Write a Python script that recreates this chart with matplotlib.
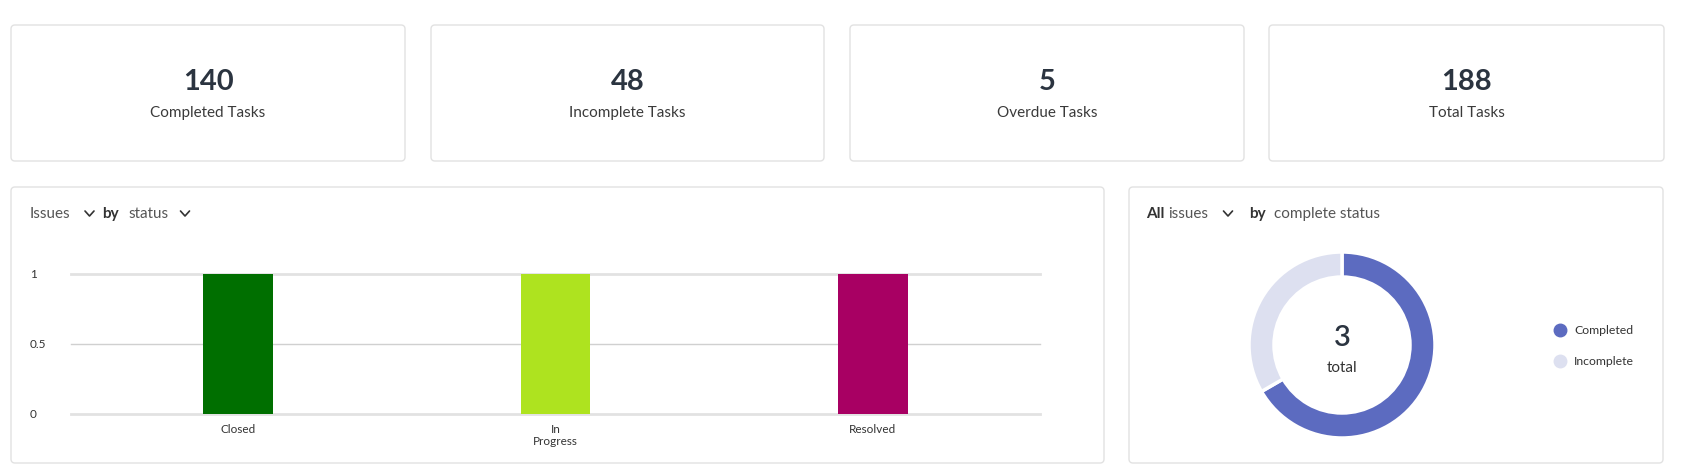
import matplotlib
matplotlib.use("Agg")
import matplotlib.pyplot as plt
from matplotlib.patches import FancyBboxPatch
from matplotlib.lines import Line2D

plt.rcParams['font.family'] = ['Lato', 'DejaVu Sans']

# ---- data ----
kpi_values = [140, 48, 5, 188]
kpi_labels = ["Completed Tasks", "Incomplete Tasks", "Overdue Tasks", "Total Tasks"]

status_categories = ["Closed", "In\nProgress", "Resolved"]
status_counts = [1, 1, 1]
status_colors = ["#006f00", "#aee31f", "#a80063"]
y_ticks = [0, 0.5, 1]
y_tick_labels = ["0", "0.5", "1"]

donut_labels = ["Completed", "Incomplete"]
donut_values = [2, 1]
donut_colors = ["#5c6bc0", "#dde0f0"]

W, H = 1684, 476
fig = plt.figure(figsize=(W / 100, H / 100), dpi=100)
fig.patch.set_facecolor("white")


def fr(x0, y0, x1, y1):
    return [x0 / W, 1 - y1 / H, (x1 - x0) / W, (y1 - y0) / H]


# background axes in pixel coordinates
bg = fig.add_axes([0, 0, 1, 1], zorder=0)
bg.set_xlim(0, W)
bg.set_ylim(H, 0)
bg.axis("off")

border = "#e2e2e2"


def panel(x0, y0, x1, y1):
    bg.add_patch(FancyBboxPatch((x0, y0), x1 - x0, y1 - y0,
                                boxstyle="round,pad=0,rounding_size=4",
                                fc="white", ec=border, lw=1.0))


def chevron(cx, cy, color="#333333"):
    bg.plot([cx - 4.5, cx, cx + 4.5], [cy - 2.5, cy + 2.5, cy - 2.5],
            color=color, lw=1.2, solid_capstyle="round", solid_joinstyle="round")


# KPI cards
card_x = [(11, 405), (431, 824), (850, 1244), (1269, 1664)]
for (x0, x1), v, lab in zip(card_x, kpi_values, kpi_labels):
    panel(x0, 25, x1, 161)
    cx = (x0 + x1) / 2
    bg.text(cx, 82, str(v), ha="center", va="center", fontsize=21,
            fontweight="bold", color="#2b3440")
    bg.text(cx, 113, lab, ha="center", va="center", fontsize=11, color="#3a3a3a")

# bottom panels
panel(11, 187, 1104, 463)
panel(1129, 187, 1663, 463)

# bar panel title
bg.text(30, 214, "Issues", ha="left", va="center", fontsize=11, color="#555555")
chevron(89.5, 213.5)
bg.text(102, 214, "by", ha="left", va="center", fontsize=11, color="#333333",
        fontweight="bold")
bg.text(128, 214, "status", ha="left", va="center", fontsize=11, color="#555555")
chevron(185, 213.5)

# donut panel title
bg.text(1146, 214, "All", ha="left", va="center", fontsize=11, color="#333333",
        fontweight="bold")
bg.text(1168, 214, "issues", ha="left", va="center", fontsize=11, color="#555555")
chevron(1228, 213.5)
bg.text(1249, 214, "by", ha="left", va="center", fontsize=11, color="#333333",
        fontweight="bold")
bg.text(1274, 214, "complete status", ha="left", va="center", fontsize=11,
        color="#555555")

# ---- bar chart ----
ax = fig.add_axes(fr(71, 274, 1040, 414), zorder=2)
ax.patch.set_alpha(0)
x = list(range(len(status_categories)))
ax.bar(x, status_counts, width=0.22, color=status_colors, zorder=3)
ax.set_xlim(-0.526, len(status_categories) - 1 + 0.526)
ax.set_ylim(0, 1)
for t in y_ticks:
    lw = 2.0 if t in (0, 1) else 1.0
    col = "#e2e2e2" if t in (0, 1) else "#d0d0d0"
    ax.axhline(t, color=col, lw=lw, clip_on=False, zorder=1)
for s in ax.spines.values():
    s.set_visible(False)
ax.set_yticks(y_ticks)
ax.set_yticklabels(y_tick_labels)
ax.set_xticks(x)
ax.set_xticklabels(status_categories, linespacing=1.1)
ax.tick_params(axis="y", length=0, pad=29.5, labelsize=8.5, labelcolor="#333333")
ax.tick_params(axis="x", length=0, pad=7, labelsize=8.5, labelcolor="#333333")
for lab in ax.get_yticklabels():
    lab.set_horizontalalignment("left")
for lab in ax.get_xticklabels():
    lab.set_multialignment("center")

# ---- donut ----
cx, cy, R = 1342, 345, 93
half = 105
dax = fig.add_axes(fr(cx - half, cy - half, cx + half, cy + half), zorder=2)
wedges, _ = dax.pie(donut_values, colors=donut_colors, radius=1, startangle=90,
                    counterclock=False,
                    wedgeprops=dict(width=25 / R, edgecolor="white", linewidth=2.5))
lim = half / R
dax.set_xlim(-lim, lim)
dax.set_ylim(-lim, lim)
dax.set_aspect("equal")
dax.axis("off")
dax.text(0, 0.08, str(sum(donut_values)), ha="center", va="center", fontsize=21,
         fontweight="semibold", color="#2b3440")
dax.text(0, -0.25, "total", ha="center", va="center", fontsize=11, color="#333333")

handles = [Line2D([], [], marker="o", linestyle="none", markersize=9,
                  markerfacecolor=c, markeredgecolor=c) for c in donut_colors]
fig.legend(handles, donut_labels, loc="center left",
           bbox_to_anchor=(1554 / W, 1 - 346 / H), frameon=False,
           fontsize=8.8, handlelength=0.9, handletextpad=0.75,
           labelspacing=1.6, borderpad=0, borderaxespad=0,
           labelcolor="#333333")

fig.savefig("out.png", dpi=100, facecolor="white")
